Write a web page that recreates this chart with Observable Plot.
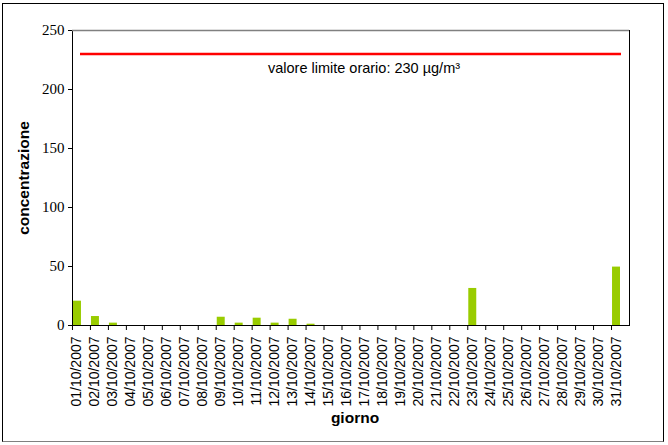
<!DOCTYPE html>
<html>
<head>
<meta charset="utf-8">
<script src="https://cdn.jsdelivr.net/npm/d3@7"></script>
<script src="https://cdn.jsdelivr.net/npm/@observablehq/plot@0.6"></script>
<style>
  html, body { margin: 0; padding: 0; background: #fff; }
  #wrap { position: relative; width: 668px; height: 445px; }
  #border { position: absolute; left: 2px; top: 3px; width: 662px; height: 439px;
            border: 1px solid #000; border-bottom-color: #808080; box-sizing: border-box; pointer-events: none; }
  svg { display: block; }
  g[aria-label="y-axis tick label"] text { font-family: "Liberation Serif", "Times New Roman", serif; font-size: 15px; }
  g[aria-label="x-axis tick label"] text { font-family: "Liberation Sans", Arial, sans-serif; }
</style>
</head>
<body>
<div id="wrap"><div id="border"></div></div>
<script>
// Data
const days = ["01/10/2007","02/10/2007","03/10/2007","04/10/2007","05/10/2007","06/10/2007","07/10/2007","08/10/2007","09/10/2007","10/10/2007","11/10/2007","12/10/2007","13/10/2007","14/10/2007","15/10/2007","16/10/2007","17/10/2007","18/10/2007","19/10/2007","20/10/2007","21/10/2007","22/10/2007","23/10/2007","24/10/2007","25/10/2007","26/10/2007","27/10/2007","28/10/2007","29/10/2007","30/10/2007","31/10/2007"];
const values = [20.6, 7.6, 2, 0, 0, 0, 0, 0, 7, 2, 6.2, 2, 5.3, 1.1, 0, 0, 0, 0, 0, 0, 0, 0, 31.4, 0, 0, 0, 0, 0, 0, 0, 49.5];
const yTicks = [0, 50, 100, 150, 200, 250];
const limitValue = 230;
const limitLabel = "valore limite orario: 230 µg/m³";
const yTitle = "concentrazione";
const xTitle = "giorno";

const data = days.map((d, i) => ({day: d, value: values[i]}));

const chart = Plot.plot({
  width: 668,
  height: 445,
  marginLeft: 72,
  marginRight: 39,
  marginTop: 30,
  marginBottom: 120,
  style: {background: "transparent", color: "#000"},
  x: {type: "band", domain: days, padding: 0, round: false},
  y: {domain: [0, 250], ticks: yTicks},
  marks: [
    Plot.barY(data, {x: "day", y: "value", fill: "#99CC00", insetLeft: 1, insetRight: 9}),
    Plot.ruleY([limitValue], {stroke: "#FF0000", strokeWidth: 2.5, insetLeft: 8, insetRight: 8}),
    Plot.text([limitLabel], {y: limitValue, frameAnchor: "middle", lineAnchor: "top", dy: 9, dx: 13,
      fontFamily: "Liberation Sans, Arial, sans-serif", fontSize: 14.5, fill: "#000"}),
    Plot.frame({stroke: "#000"}),
    Plot.ruleY([250], {stroke: "#808080", strokeWidth: 1.5}),
    Plot.axisY({ticks: yTicks, tickSize: 4, tickPadding: 4, label: null, fontSize: 15}),
    Plot.axisX({tickSize: 5, dx: -9, tickFormat: () => "", label: null}),
    Plot.axisX({tickSize: 0, tickPadding: 11, dx: -4.5, tickRotate: -90, label: null, fontSize: 14}),
    Plot.text([yTitle], {frameAnchor: "left", rotate: -90, dx: -48, textAnchor: "middle", lineAnchor: "middle",
      fontFamily: "Liberation Sans, Arial, sans-serif", fontWeight: "bold", fontSize: 15.5, fill: "#000"}),
    Plot.text([xTitle], {frameAnchor: "bottom", dy: 93, dx: 4, textAnchor: "middle", lineAnchor: "middle",
      fontFamily: "Liberation Sans, Arial, sans-serif", fontWeight: "bold", fontSize: 15.5, fill: "#000"})
  ]
});
document.getElementById("wrap").prepend(chart);
</script>
</body>
</html>
